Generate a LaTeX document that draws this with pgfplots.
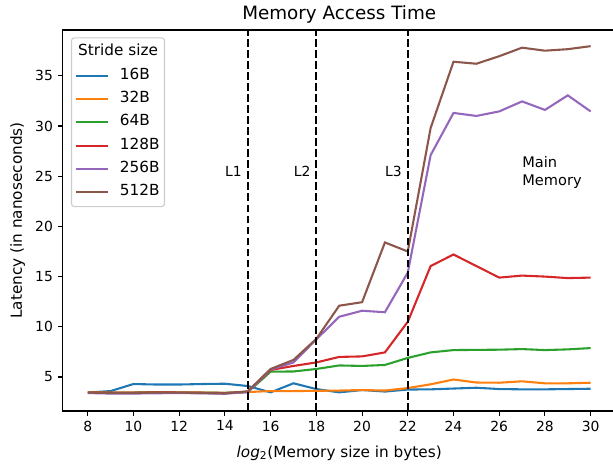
\documentclass[border=0pt]{standalone}
\usepackage{pgfplots}
\pgfplotsset{compat=1.18}
\usepackage{fontspec}
\setmainfont{DejaVu Sans}
\definecolor{c1}{HTML}{1F77B4}
\definecolor{c2}{HTML}{FF7F0E}
\definecolor{c3}{HTML}{2CA02C}
\definecolor{c4}{HTML}{D62728}
\definecolor{c5}{HTML}{9467BD}
\definecolor{c6}{HTML}{8C564B}
\begin{document}
\begin{tikzpicture}
\begin{axis}[
  at={(0,0)}, anchor=south west,
  scale only axis, width=398.2pt, height=274.3pt,
  xmin=6.9, xmax=31.1, ymin=1.61, ymax=39.56,
  xtick={8,10,...,30}, ytick={5,10,...,35},
  tick align=outside, major tick length=3.5pt,
  every tick/.style={black, line width=0.8pt},
  axis line style={line width=0.8pt},
  tick pos=left,
  /pgf/number format/assume math mode=true,
  ticklabel style={font=\fontsize{10}{12}\selectfont},
  every axis title/.style={font=\fontsize{13.2}{15}\selectfont, at={(axis description cs:0.5,1)}, anchor=base, yshift=7.2pt, inner sep=0pt},
  title={Memory Access Time},
  xlabel={{\itshape log}\textsubscript{2}(Memory size in bytes)},
  ylabel={Latency (in nanoseconds)},
  xlabel style={font=\fontsize{11}{13}\selectfont, at={([yshift=-33.3pt]axis description cs:0.5,0)}, anchor=base},
  ylabel style={font=\fontsize{11}{13}\selectfont, at={([xshift=-29.3pt]axis description cs:0,0.5)}, anchor=base},
  legend cell align=left,
  legend image code/.code={\draw[#1] (0pt,0pt) -- (22.8pt,0pt);},
  legend style={at={(0,1)}, anchor=north west, xshift=6pt, yshift=-5.3pt,
    draw=black!20, line width=0.8pt, rounded corners=2pt, fill=white, fill opacity=0.8, text opacity=1,
    inner xsep=2.6pt, inner ysep=4pt, row sep=4.2pt,
    nodes={inner sep=1pt, text height=8pt, text depth=2.6pt, font=\fontsize{11}{13}\selectfont},
    /tikz/every odd column/.append style={column sep=6.9pt}},
]
\addlegendimage{empty legend}
\addlegendentry{\makebox[0pt][l]{\hspace*{-30pt}Stride size}}

\addplot[c1, line width=1.5pt] table {
8 3.45
9 3.6
10 4.3
11 4.25
12 4.25
13 4.3
14 4.33
15 4.1
16 3.47
17 4.37
18 3.8
19 3.47
20 3.7
21 3.55
22 3.75
23 3.77
24 3.85
25 3.93
26 3.8
27 3.77
28 3.77
29 3.8
30 3.83
};
\addlegendentry{16B}
\addplot[c2, line width=1.5pt] table {
8 3.47
9 3.45
10 3.45
11 3.48
12 3.47
13 3.45
14 3.42
15 3.5
16 3.6
17 3.6
18 3.62
19 3.65
20 3.7
21 3.65
22 3.9
23 4.27
24 4.75
25 4.45
26 4.43
27 4.57
28 4.37
29 4.37
30 4.43
};
\addlegendentry{32B}
\addplot[c3, line width=1.5pt] table {
8 3.45
9 3.44
10 3.45
11 3.46
12 3.45
13 3.44
14 3.42
15 3.5
16 5.53
17 5.55
18 5.8
19 6.15
20 6.1
21 6.2
22 6.9
23 7.45
24 7.68
25 7.7
26 7.72
27 7.78
28 7.68
29 7.75
30 7.88
};
\addlegendentry{64B}
\addplot[c4, line width=1.5pt] table {
8 3.45
9 3.43
10 3.44
11 3.46
12 3.45
13 3.43
14 3.4
15 3.52
16 5.7
17 6.1
18 6.45
19 7.0
20 7.05
21 7.45
22 10.5
23 16.05
24 17.2
25 16.05
26 14.9
27 15.1
28 15.0
29 14.85
30 14.9
};
\addlegendentry{128B}
\addplot[c5, line width=1.5pt] table {
8 3.4
9 3.35
10 3.35
11 3.38
12 3.4
13 3.37
14 3.33
15 3.5
16 5.75
17 6.45
18 8.75
19 11.0
20 11.6
21 11.45
22 15.4
23 27.1
24 31.3
25 31.0
26 31.45
27 32.45
28 31.6
29 33.05
30 31.45
};
\addlegendentry{256B}
\addplot[c6, line width=1.5pt] table {
8 3.45
9 3.4
10 3.4
11 3.45
12 3.45
13 3.4
14 3.37
15 3.58
16 5.8
17 6.7
18 8.8
19 12.1
20 12.45
21 18.4
22 17.5
23 29.8
24 36.4
25 36.2
26 36.95
27 37.8
28 37.5
29 37.65
30 37.95
};
\addlegendentry{512B}

\addplot[forget plot, black, line width=1.5pt, dash pattern=on 5.55pt off 2.4pt] coordinates {(15,1.61) (15,39.56)};
\addplot[forget plot, black, line width=1.5pt, dash pattern=on 5.55pt off 2.4pt] coordinates {(18,1.61) (18,39.56)};
\addplot[forget plot, black, line width=1.5pt, dash pattern=on 5.55pt off 2.4pt] coordinates {(22,1.61) (22,39.56)};

\node[anchor=base west, inner sep=0pt, font=\fontsize{10}{12}\selectfont] at (axis cs:14,25) {L1};
\node[anchor=base west, inner sep=0pt, font=\fontsize{10}{12}\selectfont] at (axis cs:17,25) {L2};
\node[anchor=base west, inner sep=0pt, font=\fontsize{10}{12}\selectfont] at (axis cs:21,25) {L3};
\node[anchor=base west, inner sep=0pt, font=\fontsize{10.5}{12}\selectfont] at (axis cs:27,25.9) {Main};
\node[anchor=base west, inner sep=0pt, font=\fontsize{10.5}{12}\selectfont] at (axis cs:27,24.1) {Memory};
\end{axis}
\pgfresetboundingbox
\path[use as bounding box] (-45.1pt,-38.9pt) rectangle (396.2pt,295.9pt);
\end{tikzpicture}
\end{document}
